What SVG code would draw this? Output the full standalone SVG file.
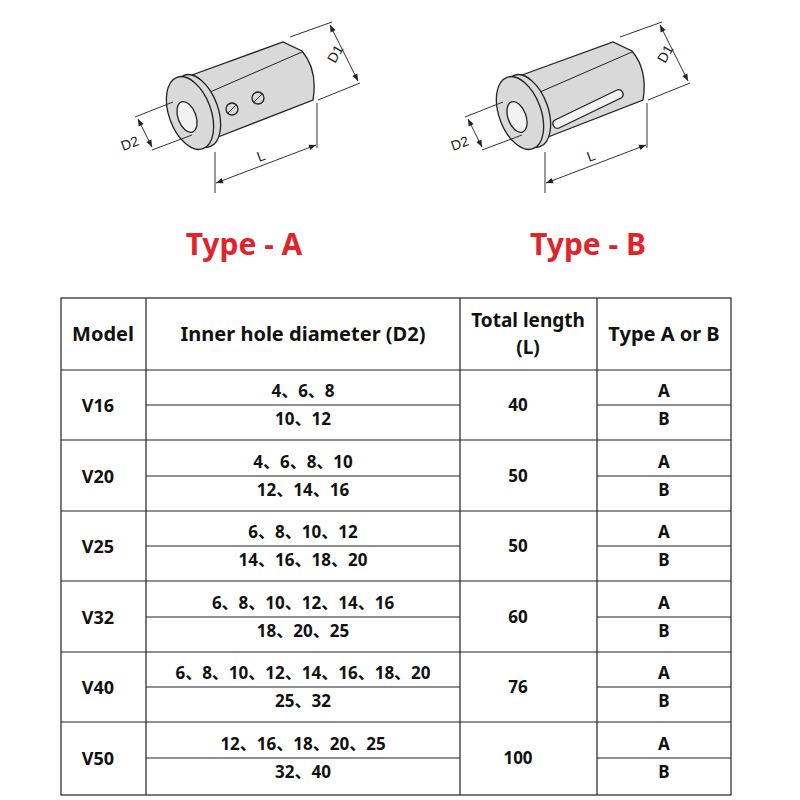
<svg xmlns="http://www.w3.org/2000/svg" width="800" height="800" viewBox="0 0 800 800">
<defs>
<marker id="ar" viewBox="0 0 10 10" refX="10" refY="5" markerWidth="9" markerHeight="7" orient="auto-start-reverse" markerUnits="userSpaceOnUse"><path d="M0,1 L10,5 L0,9 z" fill="#222"/></marker>
<style>
.b{fill:#d9d9d9;stroke:#222;stroke-width:1.3}
.d{fill:none;stroke:#333;stroke-width:1}
.da{fill:none;stroke:#333;stroke-width:1;marker-start:url(#ar);marker-end:url(#ar)}
.dl{font-family:"Liberation Sans",Arial,sans-serif;font-size:14px;fill:#222}
.ty{font-family:"Noto Sans",sans-serif;font-weight:bold;font-size:30px;fill:#e0242a;text-anchor:middle}
.h{font-family:"Noto Sans",sans-serif;font-weight:bold;font-size:20px;fill:#111;text-anchor:middle}
.v{font-family:"Noto Sans","Noto Sans CJK SC",sans-serif;font-weight:bold;font-size:17px;fill:#111;text-anchor:middle}
.g{stroke:#222;stroke-width:1.2;fill:none}
</style>
</defs>
<g id="typeA">
<path class="b" d="M192,75 L283,42 L302,51 Q318,70 313,100 L218,137 Z"/>
<path class="d" d="M210,92 L302,52" style="stroke:#222"/>
<ellipse class="b" cx="197" cy="111" rx="21" ry="38" transform="rotate(-20 197 111)"/>
<ellipse class="b" cx="190" cy="113" rx="21" ry="38" transform="rotate(-20 190 113)"/>
<ellipse class="b" cx="187" cy="117" rx="9" ry="16" transform="rotate(-20 187 117)" style="fill:#f2f2f2"/>
<circle class="b" cx="232" cy="109" r="6"/><path class="d" d="M228,113 L236,105"/>
<circle class="b" cx="258" cy="98" r="6"/><path class="d" d="M254,102 L262,94"/>
<path class="d" d="M290,37 L332,22 M318,100 L360,83 M135,117 L173,102 M152,150 L192,135 M215,152 V193 M317,103 V148"/>
<path class="da" d="M330,25 L358,81"/>
<path class="da" d="M138,119 L152,147"/>
<path class="da" d="M216,183 L316,145"/>
<text class="dl" transform="translate(335,64) rotate(-60)">D1</text>
<text class="dl" transform="translate(123,151) rotate(-20)">D2</text>
<text class="dl" transform="translate(259,162) rotate(-20)">L</text>
</g>
<g id="typeB" transform="translate(330,0)">
<path class="b" d="M192,75 L283,42 L302,51 Q318,70 313,100 L218,137 Z"/>
<path class="d" d="M210,92 L302,52" style="stroke:#222"/>
<ellipse class="b" cx="197" cy="111" rx="21" ry="38" transform="rotate(-20 197 111)"/>
<ellipse class="b" cx="190" cy="113" rx="21" ry="38" transform="rotate(-20 190 113)"/>
<ellipse class="b" cx="187" cy="117" rx="9" ry="16" transform="rotate(-20 187 117)" style="fill:#f2f2f2"/>
<path class="b" d="M229,128 L291,98 A4.5,4.5 0 0 0 287,90 L225,120 A4.5,4.5 0 0 0 229,128 Z" style="fill:#f4f4f4"/>
<path class="d" d="M290,37 L332,22 M318,100 L360,83 M135,117 L173,102 M152,150 L192,135 M215,152 V193 M317,103 V148"/>
<path class="da" d="M330,25 L358,81"/>
<path class="da" d="M138,119 L152,147"/>
<path class="da" d="M216,183 L316,145"/>
<text class="dl" transform="translate(335,64) rotate(-60)">D1</text>
<text class="dl" transform="translate(123,151) rotate(-20)">D2</text>
<text class="dl" transform="translate(259,162) rotate(-20)">L</text>
</g>
<text class="ty" x="244" y="255">Type - A</text>
<text class="ty" x="588" y="255">Type - B</text>
<g id="table">
<rect x="61" y="298" width="670" height="497" class="g"/>
<path class="g" d="M146,298 V795 M460,298 V795 M597,298 V795 M61,370 H731 M61,440 H731 M61,511 H731 M61,581 H731 M61,652 H731 M61,722 H731 M146,405 H460 M146,476 H460 M146,546 H460 M146,617 H460 M146,687 H460 M146,758 H460 M597,405 H731 M597,476 H731 M597,546 H731 M597,617 H731 M597,687 H731 M597,758 H731"/>
<text class="h" x="103" y="341">Model</text>
<text class="h" x="303" y="341">Inner hole diameter (D2)</text>
<text class="h" x="528" y="327" style="font-size:19px">Total length</text>
<text class="h" x="528" y="354" style="font-size:19px">(L)</text>
<text class="h" x="664" y="341">Type A or B</text>
<g class="v">
<text x="98" y="412" style="font-size:18px">V16</text>
<text x="98" y="483" style="font-size:18px">V20</text>
<text x="98" y="553" style="font-size:18px">V25</text>
<text x="98" y="624" style="font-size:18px">V32</text>
<text x="98" y="694" style="font-size:18px">V40</text>
<text x="98" y="765" style="font-size:18px">V50</text>
<text x="303" y="397">4、6、8</text><text x="303" y="425">10、12</text>
<text x="303" y="468">4、6、8、10</text><text x="303" y="496">12、14、16</text>
<text x="303" y="538">6、8、10、12</text><text x="303" y="566">14、16、18、20</text>
<text x="303" y="609">6、8、10、12、14、16</text><text x="303" y="637">18、20、25</text>
<text x="303" y="679">6、8、10、12、14、16、18、20</text><text x="303" y="707">25、32</text>
<text x="303" y="750">12、16、18、20、25</text><text x="303" y="778">32、40</text>
<text x="518" y="411">40</text><text x="518" y="482">50</text><text x="518" y="552">50</text>
<text x="518" y="623">60</text><text x="518" y="693">76</text><text x="518" y="764">100</text>
<text x="664" y="397">A</text><text x="664" y="425">B</text>
<text x="664" y="468">A</text><text x="664" y="496">B</text>
<text x="664" y="538">A</text><text x="664" y="566">B</text>
<text x="664" y="609">A</text><text x="664" y="637">B</text>
<text x="664" y="679">A</text><text x="664" y="707">B</text>
<text x="664" y="750">A</text><text x="664" y="778">B</text>
</g>
</g>
</svg>
